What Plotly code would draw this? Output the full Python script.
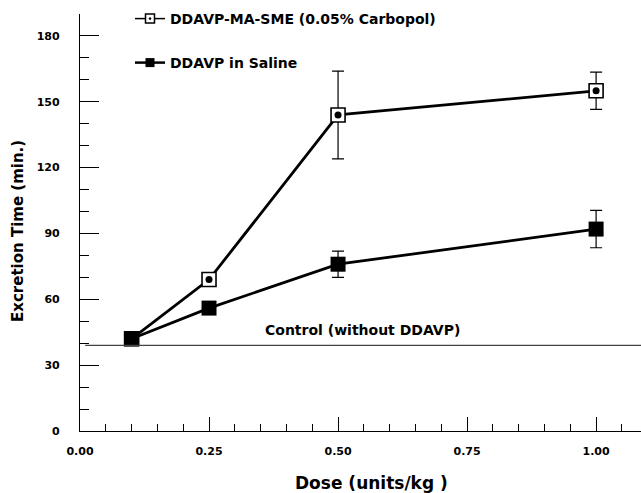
import plotly.graph_objects as go

# ---- data ----
dose = [0.10, 0.25, 0.50, 1.00]
sme_time = [42, 69, 144, 155]
sme_err = [2, 3, 20, 8.5]
saline_time = [42, 56, 76, 92]
saline_err = [2, 2, 6, 8.5]
control_value = 39
sme_name = "DDAVP-MA-SME (0.05% Carbopol)"
saline_name = "DDAVP in Saline"
control_label = "Control (without DDAVP)"
x_ticks = [0.00, 0.25, 0.50, 0.75, 1.00]
y_ticks = [0, 30, 60, 90, 120, 150, 180]

FONT = "DejaVu Sans"
fig = go.Figure()

# MA-SME: white squares with black border + central dot
fig.add_trace(go.Scatter(
    x=dose, y=sme_time, mode="lines+markers", showlegend=False,
    line=dict(color="black", width=2.8),
    marker=dict(symbol="square", size=14, color="white",
                line=dict(color="black", width=1.6)),
    error_y=dict(type="data", array=sme_err, color="black", thickness=1.2, width=6),
))
fig.add_trace(go.Scatter(
    x=dose, y=sme_time, mode="markers", showlegend=False,
    marker=dict(symbol="circle", size=7, color="black"),
))
# Saline: filled squares
fig.add_trace(go.Scatter(
    x=dose, y=saline_time, mode="lines+markers", showlegend=False,
    line=dict(color="black", width=2.8),
    marker=dict(symbol="square", size=15, color="black"),
    error_y=dict(type="data", array=saline_err, color="black", thickness=1.2, width=6),
))

# legend-only entries
fig.add_trace(go.Scatter(
    x=[None], y=[None], mode="lines+markers", name=sme_name, legend="legend",
    line=dict(color="black", width=1.5),
    marker=dict(symbol="square-dot", size=9, color="white",
                line=dict(color="black", width=1.5)),
))
fig.add_trace(go.Scatter(
    x=[None], y=[None], mode="lines+markers", name=saline_name, legend="legend2",
    line=dict(color="black", width=2.5),
    marker=dict(symbol="square", size=9, color="black"),
))

# control line
fig.add_shape(type="line", xref="x", yref="y", x0=0.01, x1=1.087,
              y0=control_value, y1=control_value,
              line=dict(color="#444444", width=1.3))
fig.add_annotation(x=0.547, y=control_value + 7, xref="x", yref="y",
                   text=control_label, showarrow=False,
                   font=dict(family=FONT, size=14, color="black", weight="bold"))

# axis titles as annotations
fig.add_annotation(x=(371 - 80) / 561, y=(431 - 483) / 417, xref="paper", yref="paper",
                   xanchor="center", yanchor="middle",
                   text="Dose (units/kg )", showarrow=False,
                   font=dict(family=FONT, size=17, color="black", weight="bold"))
fig.add_annotation(x=(18 - 80) / 561, y=(431 - 231) / 417, xref="paper", yref="paper",
                   xanchor="center", yanchor="middle",
                   text="Excretion Time (min.)", showarrow=False, textangle=-90,
                   font=dict(family=FONT, size=15, color="black", weight="bold"))

tickfont = dict(family=FONT, size=11, color="black", weight="bold")
fig.update_layout(
    width=641, height=493,
    margin=dict(l=80, r=0, t=14, b=62),
    plot_bgcolor="white", paper_bgcolor="white",
    xaxis=dict(range=[0, 1.087], tickvals=x_ticks,
               ticktext=[f"{v:.2f}" for v in x_ticks],
               showline=True, linecolor="black", linewidth=1.2,
               ticks="inside", ticklen=14, tickwidth=1.2, tickcolor="black",
               minor=dict(dtick=0.05, ticks="inside", ticklen=7, tickwidth=1, tickcolor="black"),
               showgrid=False, zeroline=False, tickfont=tickfont,
               ticklabelstandoff=10),
    yaxis=dict(range=[0, 190], tickvals=y_ticks,
               showline=True, linecolor="black", linewidth=1.2,
               ticks="inside", ticklen=19, tickwidth=1.2, tickcolor="black",
               minor=dict(dtick=10, tick0=0, ticks="inside", ticklen=9, tickwidth=1, tickcolor="black"),
               showgrid=False, zeroline=False, tickfont=tickfont,
               ticklabelstandoff=17),
    legend=dict(x=(130 - 80) / 561, y=(431 - 19) / 417, xanchor="left", yanchor="middle",
                bgcolor="rgba(0,0,0,0)",
                font=dict(family=FONT, size=14, color="black", weight="bold")),
    legend2=dict(x=(130 - 80) / 561, y=(431 - 63) / 417, xanchor="left", yanchor="middle",
                 bgcolor="rgba(0,0,0,0)",
                 font=dict(family=FONT, size=14, color="black", weight="bold")),
)

fig.write_html("out.html")
